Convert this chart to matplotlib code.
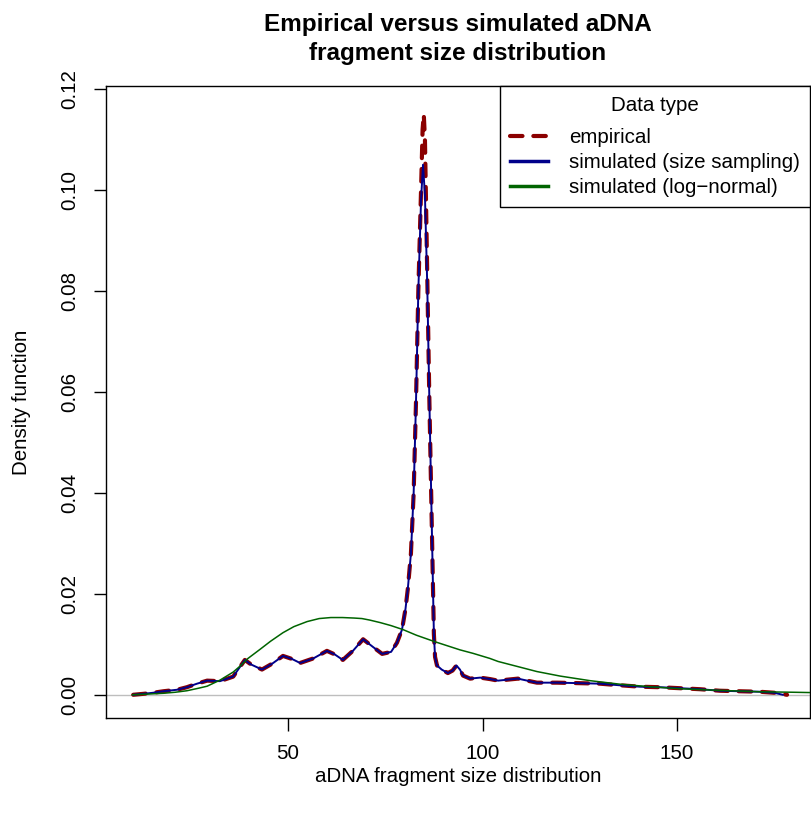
import matplotlib
matplotlib.use('Agg')
import matplotlib.pyplot as plt

plt.rcParams['font.family'] = ['Liberation Sans', 'DejaVu Sans']

# fragment size grid for empirical + size-sampling curves
size_x = [10.2, 13, 15.3, 18, 21.5, 24, 26.6, 29.2, 32.5, 35.9, 38.9, 40.5, 43.3, 46, 48.7,
          51, 53.1, 56.5, 60, 62, 64.1, 66.8, 69.3, 71.8, 74.2, 76.5, 78, 79.3, 80.2, 80.8,
          81.6, 82.3, 82.9, 83.5, 84.2, 84.7, 85.2, 85.8, 86.3, 86.8, 87.2, 87.5, 87.8, 88.3,
          89.5, 91.1, 92.3, 93.3, 94.2, 95.0, 96.8, 99.4, 102, 104, 106.5, 109.1, 111.5, 114,
          119.2, 125, 130.2, 135, 140.5, 145.5, 150.8, 156, 161, 166, 171.3, 175, 177.2]
sim_size = [0.0, 0.0002, 0.0004, 0.0007, 0.001, 0.0015, 0.0022, 0.0028, 0.0027, 0.0036,
            0.0069, 0.0060, 0.0050, 0.0062, 0.0077, 0.0071, 0.0063, 0.0072, 0.0087, 0.0080,
            0.0069, 0.0088, 0.0110, 0.0095, 0.0081, 0.0085, 0.0103, 0.0129, 0.017, 0.021,
            0.028, 0.040, 0.058, 0.080, 0.098, 0.105, 0.099, 0.081, 0.060, 0.040, 0.024,
            0.012, 0.0075, 0.0058, 0.0050, 0.0043, 0.0048, 0.0058, 0.0050, 0.0038, 0.0032,
            0.0034, 0.0031, 0.0028, 0.0030, 0.0032, 0.0028, 0.0024, 0.0024, 0.0023, 0.0022,
            0.0019, 0.0016, 0.0015, 0.0013, 0.0011, 0.0008, 0.0007, 0.0006, 0.0004, 0.0]

emp_x = [10.2, 13, 15.3, 18, 21.5, 24, 26.6, 29.2, 32.5, 35.9, 38.9, 40.5, 43.3, 46, 48.7,
         51, 53.1, 56.5, 60, 62, 64.1, 66.8, 69.3, 71.8, 74.2, 76.5, 78, 79.3, 80.2, 80.8,
         81.6, 82.3, 82.9, 83.5, 84.2, 84.6, 84.9, 85.2, 85.6, 86.3, 86.8, 87.2, 87.5, 87.8,
         88.3, 89.5, 91.1, 92.3, 93.3, 94.2, 95.0, 96.8, 99.4, 102, 104, 106.5, 109.1, 111.5,
         114, 119.2, 125, 130.2, 135, 140.5, 145.5, 150.8, 156, 161, 166, 171.3, 175, 178.3]
emp_y = [0.0, 0.0002, 0.0004, 0.0007, 0.001, 0.0015, 0.0022, 0.0028, 0.0027, 0.0036,
         0.0069, 0.0060, 0.0050, 0.0062, 0.0077, 0.0071, 0.0063, 0.0072, 0.0087, 0.0080,
         0.0069, 0.0088, 0.0110, 0.0095, 0.0081, 0.0085, 0.0103, 0.0129, 0.017, 0.021,
         0.028, 0.040, 0.058, 0.080, 0.100, 0.112, 0.115, 0.110, 0.092, 0.060, 0.040, 0.024,
         0.012, 0.0075, 0.0058, 0.0050, 0.0043, 0.0048, 0.0058, 0.0050, 0.0038, 0.0032,
         0.0034, 0.0031, 0.0028, 0.0030, 0.0032, 0.0028, 0.0024, 0.0024, 0.0023, 0.0022,
         0.0019, 0.0016, 0.0015, 0.0013, 0.0011, 0.0008, 0.0007, 0.0006, 0.0004, 0.0]

# log-normal simulated
ln_x = [10, 13, 18, 21, 24, 27, 29.2, 32.5, 35.9, 37.7, 39.7, 42.8, 45.5, 48.7, 51.5, 54.9,
        58, 61, 64, 67, 69, 71, 73.7, 76.5, 79.6, 83, 87.8, 91, 94.2, 97.6, 101.9, 104, 109,
        114, 120, 127.6, 135.3, 143, 150.8, 160, 171.3, 180, 187]
ln_y = [0.0, 0.0001, 0.0003, 0.0005, 0.0008, 0.0013, 0.0017, 0.0029, 0.0045, 0.0057, 0.0072,
        0.0090, 0.0106, 0.0123, 0.0135, 0.0145, 0.0151, 0.0153, 0.0153, 0.0152, 0.0151,
        0.0148, 0.0143, 0.0137, 0.0129, 0.0118, 0.0105, 0.0097, 0.0089, 0.0082, 0.0072,
        0.0066, 0.0056, 0.0046, 0.0037, 0.0028, 0.0021, 0.0016, 0.0012, 0.0009, 0.0006,
        0.0005, 0.0004]

xticks = [50, 100, 150]
yticks = [0.00, 0.02, 0.04, 0.06, 0.08, 0.10, 0.12]

W, H = 812, 819
fig = plt.figure(figsize=(W / 100, H / 100), dpi=100)
ax = fig.add_axes([106 / W, 1 - 718 / H, (810 - 106) / W, (718 - 86) / H])

ax.axhline(0, color='#BEBEBE', lw=1.0, zorder=1)
ax.plot(emp_x, emp_y, color='#8B0000', lw=3.0, dashes=(3.0, 2.6), dash_capstyle='round',
        label='empirical', zorder=2)
ax.plot(size_x, sim_size, color='#00008B', lw=1.4, label='simulated (size sampling)', zorder=3)
ax.plot(ln_x, ln_y, color='#006400', lw=1.1, label='simulated (log\u2212normal)', zorder=4)

ax.set_xlim(3.2, 184.2)
ax.set_ylim(-0.0046, 0.1206)
ax.set_xticks(xticks)
ax.set_xticklabels([str(t) for t in xticks])
ax.set_yticks(yticks)
ax.set_yticklabels(['%.2f' % t for t in yticks], rotation=90, va='center')
ax.tick_params(direction='out', length=9, width=1, labelsize=14.8)
ax.tick_params(axis='x', pad=10)
ax.tick_params(axis='y', pad=10)
for s in ax.spines.values():
    s.set_linewidth(1)

fig.text(458 / W, 1 - 776 / H, 'aDNA fragment size distribution', ha='center', va='center',
         fontsize=14.8)
fig.text(22 / W, 1 - 402 / H, 'Density function', ha='center', va='center', rotation=90,
         fontsize=14.8)
fig.text(458 / W, 1 - 39 / H, 'Empirical versus simulated aDNA\nfragment size distribution',
         ha='center', va='center', fontsize=17.5, fontweight='bold', linespacing=1.3)

leg = ax.legend(loc='upper right', borderaxespad=0, fancybox=False, edgecolor='black',
                framealpha=1, title='Data type', fontsize=14.8, title_fontsize=14.8,
                handlelength=1.85, handletextpad=1.0, labelspacing=0.3, borderpad=0.5)
leg._legend_box.sep = 9
leg.get_frame().set_linewidth(1)
leg.legend_handles[0].set_linewidth(3.0)
leg.legend_handles[1].set_linewidth(2.5)
leg.legend_handles[2].set_linewidth(2.5)

fig.savefig('out.png', dpi=100)
